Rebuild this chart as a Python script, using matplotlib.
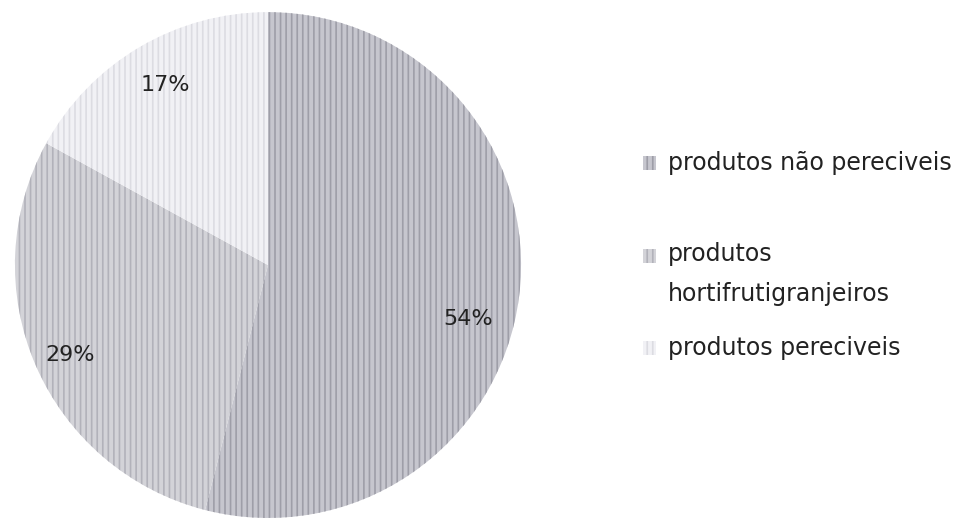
import numpy as np
import matplotlib
matplotlib.use("Agg")
import matplotlib.pyplot as plt
from matplotlib.patches import Rectangle

plt.rcParams['font.family'] = ['DejaVu Sans']
plt.rcParams['hatch.linewidth'] = 1.2

labels = ["produtos não pereciveis", "produtos\nhortifrutigranjeiros", "produtos pereciveis"]
values = [54, 29, 17]
colors = ['#c6c6ce', '#d3d3d8', '#f1f1f5']
hatch_colors = ['#9e9ea8', '#b2b2ba', '#dcdce2']

W, H = 964, 528
fig = plt.figure(figsize=(W / 100, H / 100), dpi=100, facecolor='white')
ax = fig.add_axes([0.0155, 0.019, 0.525, 0.958])
wedges, _ = ax.pie(values, colors=colors, startangle=90, counterclock=False,
                   wedgeprops=dict(linewidth=0))
for w, hc in zip(wedges, hatch_colors):
    w.set_hatch('|||')
    w.set_edgecolor(hc)
    w.set_linewidth(0)
ax.set_aspect('auto')
ax.set_xlim(-1, 1); ax.set_ylim(-1, 1)

# percentage labels (Excel-style placement)
offsets = [-8, 1, -1]
dists = [0.82, 0.86, 0.82]
for w, v, off, d in zip(wedges, values, offsets, dists):
    ang = np.deg2rad((w.theta1 + w.theta2) / 2 + off)
    ax.text(d * np.cos(ang), d * np.sin(ang), f"{v}%", ha='center', va='center',
            fontsize=16, color='#222222')

# legend drawn by hand (uneven spacing in the original)
leg_y = [163, 274, 348]
for lab, c, hc, y in zip(labels, colors, hatch_colors, leg_y):
    ny = lab.count("\n")
    my = y - ny * 18
    fig.patches.append(Rectangle(((643) / W, 1 - (my + 7) / H), 13 / W, 14 / H,
                                 transform=fig.transFigure, facecolor=c, edgecolor=hc,
                                 hatch='|||', linewidth=0))
    fig.text(668 / W, 1 - y / H, lab, ha='left', va='center', fontsize=17,
             color='#222222', linespacing=1.8)

fig.savefig("out.png", dpi=100, facecolor='white')
